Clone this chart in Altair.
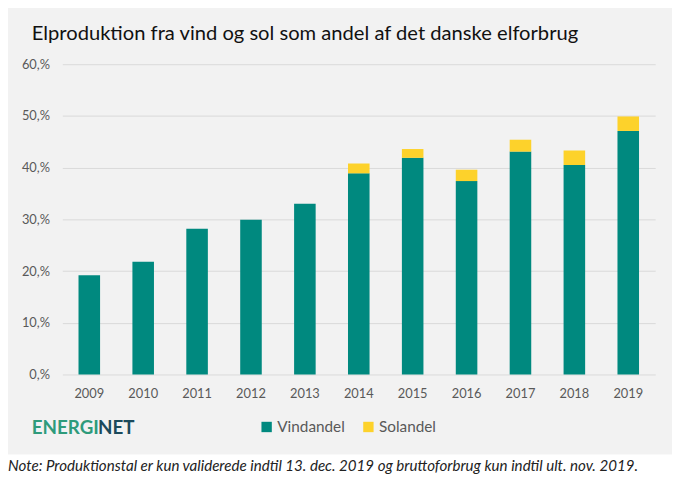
import altair as alt
import pandas as pd

years = ["2009", "2010", "2011", "2012", "2013", "2014", "2015", "2016", "2017", "2018", "2019"]
vindandel = [19.2, 21.8, 28.2, 29.9, 33.0, 38.9, 41.9, 37.4, 43.1, 40.5, 47.1]
solandel = [0.0, 0.0, 0.0, 0.0, 0.0, 1.9, 1.7, 2.2, 2.3, 2.8, 2.8]
series = ["Vindandel", "Solandel"]
colors = ["#00897f", "#fdd22b"]
y_ticks = [0, 10, 20, 30, 40, 50, 60]

title_text = "Elproduktion fra vind og sol som andel af det danske elforbrug"
note_text = "Note: Produktionstal er kun validerede indtil 13. dec. 2019 og bruttoforbrug kun indtil ult. nov. 2019."
logo_a = "ENERGI"
logo_b = "NET"

rows = []
for i, y in enumerate(years):
    rows.append({"year": y, "serie": "Vindandel", "value": vindandel[i], "ord": 0})
    rows.append({"year": y, "serie": "Solandel", "value": solandel[i], "ord": 1})
df = pd.DataFrame(rows)

FONT = "Lato"
one = alt.Data(values=[{"a": 1}])

# white strip under the grey chart area, for the note
strip = alt.Chart(one).mark_rect(color="white").encode(
    x=alt.value(-60), x2=alt.value(620), y=alt.value(395), y2=alt.value(460)
)

bars = alt.Chart(df).mark_bar().encode(
    x=alt.X("year:N", sort=years,
            scale=alt.Scale(paddingInner=0.6, paddingOuter=0.3),
            axis=alt.Axis(title=None, labelAngle=0, domain=False, ticks=False,
                          labelPadding=13, labelFontSize=13, labelColor="#595959",
                          labelFont=FONT)),
    y=alt.Y("value:Q", stack="zero",
            scale=alt.Scale(domain=[0, 60], nice=False),
            axis=alt.Axis(title=None, values=y_ticks, domain=False, ticks=False,
                          labelExpr="datum.value + ',%'", labelPadding=13,
                          labelFontSize=13, labelColor="#595959", labelFont=FONT,
                          gridColor="#d9d9d9", gridWidth=1)),
    color=alt.Color("serie:N", sort=series,
                    scale=alt.Scale(domain=series, range=colors),
                    legend=alt.Legend(title=None, orient="none", legendX=199, legendY=359,
                                      direction="horizontal", symbolType="square",
                                      symbolSize=110, symbolStrokeWidth=0,
                                      labelFontSize=15.5, labelColor="#595959",
                                      labelFont=FONT, labelOffset=3, columnPadding=16)),
    order=alt.Order("ord:Q"),
)

title = alt.Chart(one).mark_text(text=title_text, align="left", baseline="alphabetic",
                                 fontSize=20.4, font=FONT, color="#111111").encode(
    x=alt.value(-31), y=alt.value(-25))

logo1 = alt.Chart(one).mark_text(text=logo_a, align="left", baseline="alphabetic",
                                 fontSize=19, font=FONT, fontWeight="bold", color="#2e9b7b").encode(
    x=alt.value(-31), y=alt.value(374))
logo2 = alt.Chart(one).mark_text(text=logo_b, align="left", baseline="alphabetic",
                                 fontSize=19, font=FONT, fontWeight="bold", color="#1b4a5c").encode(
    x=alt.value(36), y=alt.value(374))

note = alt.Chart(one).mark_text(text=note_text, align="left", baseline="alphabetic",
                                fontSize=15.3, font=FONT, fontStyle="italic", color="#222222").encode(
    x=alt.value(-55), y=alt.value(412))

chart = alt.layer(strip, bars, title, logo1, logo2, note).properties(
    width=600, height=314,
    autosize=alt.AutoSizeParams(type="none"),
    padding={"left": 55, "top": 54, "right": 17, "bottom": 114},
    background="#f2f2f2",
).configure_view(stroke=None)

chart.save("out.html", embed_options={"renderer": "svg", "actions": False})
